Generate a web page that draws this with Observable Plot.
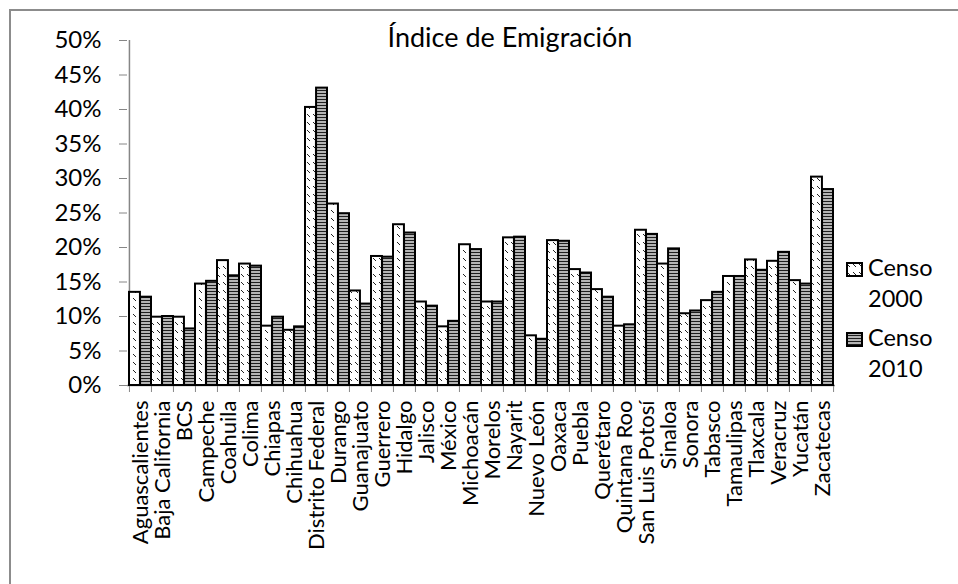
<!DOCTYPE html>
<html><head><meta charset="utf-8">
<script src="https://cdn.jsdelivr.net/npm/d3@7"></script>
<script src="https://cdn.jsdelivr.net/npm/@observablehq/plot@0.6"></script>
<style>
body{margin:0;background:#fff;}
#wrap{position:relative;width:958px;height:584px;overflow:hidden;font-family:Lato,sans-serif;color:#000;}
#chart{position:absolute;left:0;top:0;}
#border{position:absolute;left:9px;top:9px;width:2000px;height:2000px;border-left:2px solid #8c8c8c;border-top:2px solid #8c8c8c;}
#title{position:absolute;left:0;top:21px;width:1020px;text-align:center;font-size:27px;line-height:32px;white-space:nowrap;}
.leg{position:absolute;left:846px;font-size:23.5px;line-height:31px;}
.leg svg{position:absolute;left:0;}
.leg span{position:absolute;left:22px;white-space:nowrap;}
</style></head>
<body>
<div id="wrap"><div id="border"></div><div id="chart"></div><div id="title">Índice de Emigración</div><div id="legend"></div></div>
<script>
const states = ["Aguascalientes","Baja California","BCS","Campeche","Coahuila","Colima","Chiapas","Chihuahua","Distrito Federal","Durango","Guanajuato","Guerrero","Hidalgo","Jalisco","México","Michoacán","Morelos","Nayarit","Nuevo León","Oaxaca","Puebla","Querétaro","Quintana Roo","San Luis Potosí","Sinaloa","Sonora","Tabasco","Tamaulipas","Tlaxcala","Veracruz","Yucatán","Zacatecas"];
const censo2000 = [13.5,9.9,9.9,14.7,18.1,17.6,8.6,8.0,40.3,26.3,13.7,18.7,23.3,12.1,8.5,20.4,12.1,21.4,7.2,21.0,16.8,13.9,8.6,22.5,17.6,10.4,12.3,15.8,18.2,18.0,15.2,30.2];
const censo2010 = [12.8,10.0,8.2,15.1,15.9,17.3,9.9,8.5,43.1,24.9,11.8,18.6,22.1,11.5,9.3,19.7,12.1,21.5,6.7,20.9,16.3,12.8,8.8,21.9,19.8,10.8,13.5,15.8,16.7,19.3,14.7,28.4];
const seriesNames = ["Censo 2000","Censo 2010"];
const yTicks = [0,0.05,0.10,0.15,0.20,0.25,0.30,0.35,0.40,0.45,0.50];
const title = "Índice de Emigración";

const W = 958, H = 584, mL = 127, mR = 123, mT = 40, mB = 199;
const bw = (W - mL - mR) / states.length;
const rows2000 = states.map((s,i)=>({state:s, series:seriesNames[0], value:censo2000[i]/100}));
const rows2010 = states.map((s,i)=>({state:s, series:seriesNames[1], value:censo2010[i]/100}));
const tickLen = 7 * 0.5 / (H - mT - mB);
const axisGray = "#868686";

const svg = Plot.plot({
  width: W, height: H,
  marginLeft: mL, marginRight: mR, marginTop: mT, marginBottom: mB,
  style: {fontFamily: "Lato, sans-serif", fontSize: "21px", color: "black", background: "transparent"},
  x: {type: "band", domain: states, padding: 0, axis: null, label: null},
  y: {domain: [0, 0.5], axis: null, label: null},
  marks: [
    Plot.ruleY([0], {stroke: axisGray, strokeWidth: 1.5}),
    Plot.ruleX([states[0]], {y1: 0, y2: 0.5, dx: -bw/2, stroke: axisGray, strokeWidth: 1.5}),
    Plot.ruleX(states, {x: d=>d, y1: 0, y2: -tickLen, dx: -bw/2, stroke: axisGray}),
    Plot.ruleX([states[states.length-1]], {x: d=>d, y1: 0, y2: -tickLen, dx: bw/2, stroke: axisGray}),
    Plot.axisY({ticks: yTicks, tickFormat: d3.format(".0%"), tickSize: 8, tickPadding: 18, color: axisGray, fill: "black", fontSize: 24, label: null}),
    Plot.axisX({tickSize: 0, tickPadding: 15, tickRotate: -90, fontSize: 22, fill: "black", label: null}),
    Plot.barY(rows2000, {x: "state", y: "value", fill: "url(#p2000)", stroke: "black", strokeWidth: 2, insetRight: bw/2}),
    Plot.barY(rows2010, {x: "state", y: "value", fill: "url(#p2010)", stroke: "black", strokeWidth: 2, insetLeft: bw/2})
  ]
});

// patterns
const defs = d3.select(svg).insert("defs", ":first-child");
const p1 = defs.append("pattern").attr("id","p2000").attr("patternUnits","userSpaceOnUse").attr("width",6).attr("height",8);
p1.append("rect").attr("width",6).attr("height",8).attr("fill","white");
p1.append("line").attr("x1",1).attr("y1",2).attr("x2",4).attr("y2",5).attr("stroke","#222").attr("stroke-width",1);
const p2 = defs.append("pattern").attr("id","p2010").attr("patternUnits","userSpaceOnUse").attr("width",4).attr("height",3);
p2.append("rect").attr("width",4).attr("height",3).attr("fill","#b4b4b4");
p2.append("rect").attr("width",4).attr("height",1).attr("fill","#1e1e1e");

document.getElementById("chart").appendChild(svg);

// legend
const leg = d3.select("#legend");
const legTops = [252, 322];
seriesNames.forEach((name, i) => {
  const item = leg.append("div").attr("class","leg").style("top", legTops[i] + "px");
  const sw = item.append("svg").attr("width",17).attr("height",16).style("top","10px");
  sw.append("rect").attr("x",1).attr("y",1).attr("width",15).attr("height",13)
    .attr("fill", i === 0 ? "url(#p2000)" : "url(#p2010)").attr("stroke","black").attr("stroke-width",2);
  const parts = name.split(" ");
  item.append("span").html(parts[0] + "<br>" + parts[1]);
});
</script>
</body></html>
